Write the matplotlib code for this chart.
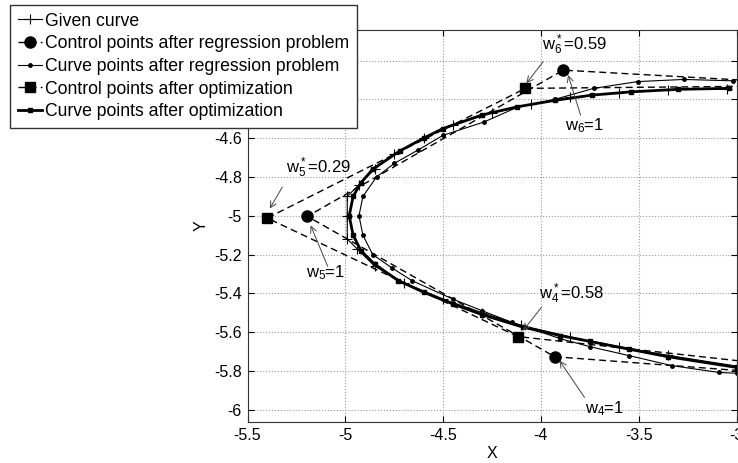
import matplotlib
matplotlib.use('Agg')
import matplotlib.pyplot as plt

plt.rcParams['font.family'] = 'Liberation Sans'
plt.rcParams['font.size'] = 11
plt.rcParams['mathtext.fontset'] = 'custom'
plt.rcParams['mathtext.rm'] = 'Liberation Sans'
plt.rcParams['mathtext.it'] = 'Liberation Sans'
plt.rcParams['axes.unicode_minus'] = False

# given curve (+ markers)
given_x = [-3.0, -3.35, -3.6, -3.85, -4.1, -4.3, -4.5, -4.7, -4.85, -4.94, -4.99, -4.99, -4.99,
           -4.93, -4.85, -4.75, -4.6, -4.45, -4.25, -4.05, -3.85, -3.6, -3.35, -3.05]
given_y = [-5.775, -5.72, -5.675, -5.625, -5.565, -5.5, -5.43, -5.345, -5.26, -5.17, -5.12, -5.0, -4.9,
           -4.84, -4.76, -4.68, -4.6, -4.53, -4.47, -4.425, -4.39, -4.365, -4.35, -4.345]

# control polygon after regression
reg_ctrl_x = [-2.7, -3.929, -5.194, -3.886, -2.8]
reg_ctrl_y = [-5.82, -5.727, -5.003, -4.249, -4.31]

# curve after regression
reg_x = [-3.0, -3.09, -3.33, -3.55, -3.75, -3.9, -4.15, -4.3, -4.45, -4.66, -4.76, -4.86, -4.91, -4.93,
         -4.91, -4.84, -4.75, -4.63, -4.5, -4.29, -4.12, -3.93, -3.73, -3.505, -3.27, -3.02]
reg_y = [-5.812, -5.808, -5.773, -5.721, -5.675, -5.634, -5.549, -5.49, -5.43, -5.334, -5.27, -5.2, -5.1, -5.0,
         -4.9, -4.8, -4.73, -4.662, -4.585, -4.516, -4.44, -4.4, -4.343, -4.308, -4.297, -4.304]

# control polygon after optimization
opt_ctrl_x = [-2.7, -4.117, -5.399, -4.079, -2.7]
opt_ctrl_y = [-5.78, -5.623, -5.012, -4.343, -4.33]

# curve after optimization
opt_x = [-3.0, -3.35, -3.55, -3.75, -3.9, -4.09, -4.3, -4.45, -4.6, -4.73, -4.85, -4.92, -4.96, -4.98,
         -4.96, -4.92, -4.86, -4.72, -4.6, -4.5, -4.3, -4.12, -3.93, -3.74, -3.54, -3.3, -3.04]
opt_y = [-5.782, -5.727, -5.688, -5.648, -5.618, -5.575, -5.51, -5.455, -5.394, -5.334, -5.25, -5.18, -5.1, -5.0,
         -4.9, -4.83, -4.76, -4.665, -4.6, -4.55, -4.48, -4.438, -4.405, -4.378, -4.361, -4.348, -4.343]

# weight labels: text, text pos, arrow tail, arrow head
labels = [r'$w_6^*$=0.59', r'$w_6$=1', r'$w_5^*$=0.29', r'$w_5$=1', r'$w_4^*$=0.58', r'$w_4$=1']
label_pos = [(-3.992, -4.119), (-3.879, -4.533), (-5.305, -4.755), (-5.203, -5.293), (-4.008, -5.405), (-3.777, -5.995)]
arrow_tail = [(-3.989, -4.206), (-3.797, -4.481), (-5.322, -4.852), (-5.09, -5.261), (-3.997, -5.472), (-3.777, -5.937)]
arrow_head = [(-4.074, -4.317), (-3.861, -4.274), (-5.386, -4.963), (-5.177, -5.05), (-4.091, -5.592), (-3.905, -5.747)]

# y ticks; the top two sit behind the legend
yticks = [-6, -5.8, -5.6, -5.4, -5.2, -5, -4.8, -4.6, -4.4, -4.2]
ytick_labels = ['-6', '-5.8', '-5.6', '-5.4', '-5.2', '-5', '-4.8', '-4.6', '', '']

fig = plt.figure(figsize=(7.38, 4.63), dpi=100)
ax = fig.add_axes([247.5 / 738, 1 - 421.5 / 463, 489 / 738, 391.5 / 463])

ax.plot(given_x, given_y, '-+', color='k', lw=0.8, ms=7, mew=0.8, label='Given curve')
ax.plot(reg_ctrl_x, reg_ctrl_y, '--o', color='k', lw=1.0, ms=8, dashes=(5, 3),
        label='Control points after regression problem')
ax.plot(reg_x, reg_y, '-', marker='.', color='k', lw=0.8, ms=5,
        label='Curve points after regression problem')
ax.plot(opt_ctrl_x, opt_ctrl_y, '--s', color='k', lw=1.0, ms=7, dashes=(5, 3),
        label='Control points after optimization')
ax.plot(opt_x, opt_y, '-', marker='s', color='k', lw=2.0, ms=3,
        label='Curve points after optimization')

for txt, pos, tail, head in zip(labels, label_pos, arrow_tail, arrow_head):
    ax.annotate('', xy=head, xytext=tail,
                arrowprops=dict(arrowstyle='->', color='#444444', lw=0.7, shrinkA=0, shrinkB=0))
    ax.text(pos[0], pos[1], txt, ha='left', va='center', fontsize=12)

ax.set_xlim(-5.5, -3.0)
ax.set_ylim(-6.061, -4.042)
ax.set_xticks([-5.5, -5, -4.5, -4, -3.5, -3])
ax.set_xticklabels(['-5.5', '-5', '-4.5', '-4', '-3.5', '-3'])
ax.set_yticks(yticks)
ax.set_yticklabels(ytick_labels)
ax.tick_params(direction='in', top=True, right=True, length=4, labelsize=11.5)
ax.tick_params(axis='x', pad=5)
ax.tick_params(axis='y', pad=4)
ax.grid(True, linestyle=':', color='#999999', lw=0.8)
for s in ax.spines.values():
    s.set_color('#333333')
ax.set_xlabel('X', labelpad=2, fontsize=11.5)
ax.set_ylabel('Y', labelpad=4, fontsize=11.5)

leg = fig.legend(loc='upper left', bbox_to_anchor=(10 / 738, 1 - 5 / 463), fontsize=12.7,
                 fancybox=False, edgecolor='#333333', framealpha=1, borderpad=0.43,
                 handlelength=1.4, handletextpad=0.15, labelspacing=0.32, borderaxespad=0)
leg.get_frame().set_linewidth(1.0)

fig.savefig('out.png', dpi=100)
